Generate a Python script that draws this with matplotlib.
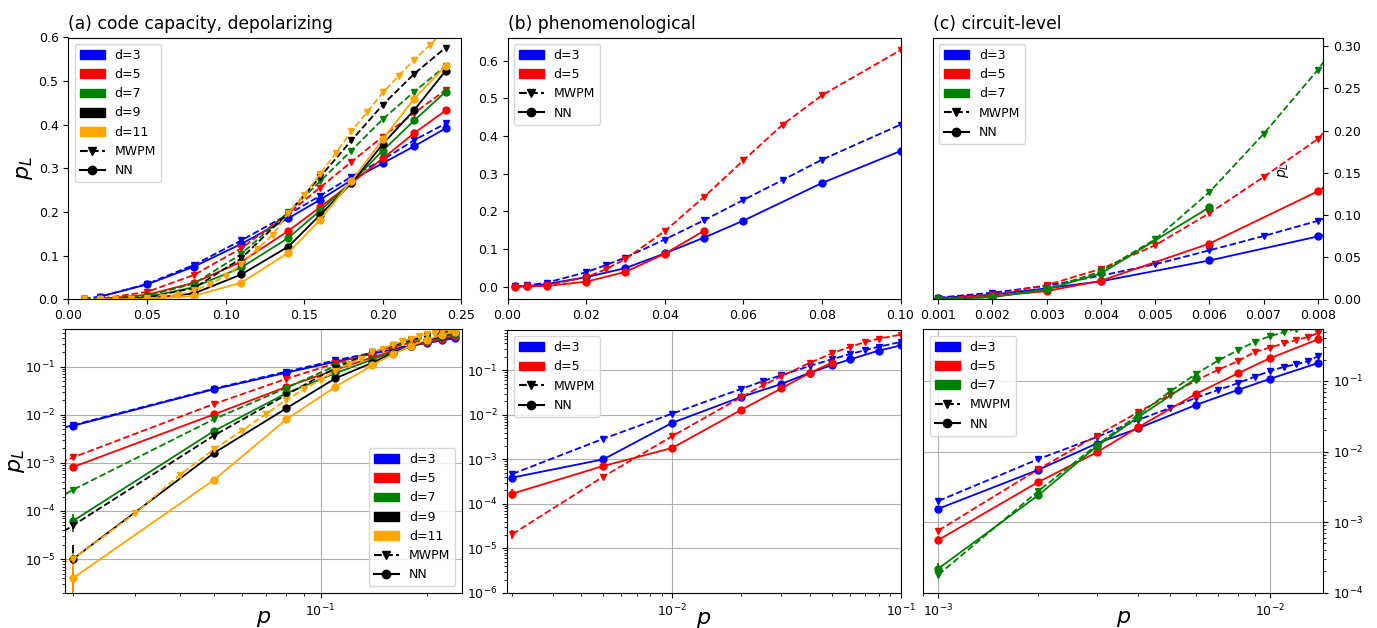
import numpy as np
import matplotlib.pyplot as plt
import matplotlib.patches as mpatches
from matplotlib.lines import Line2D
from matplotlib.ticker import NullFormatter

# (a) code capacity, depolarizing
p_a_nn = [0.02, 0.05, 0.08, 0.11, 0.14, 0.16, 0.18, 0.20, 0.22, 0.24]
p_a_mw = [0.01, 0.02, 0.05, 0.08, 0.11, 0.14, 0.16, 0.18, 0.20, 0.22, 0.24]
p_a_mw11 = [0.01, 0.02, 0.03, 0.04, 0.05, 0.06, 0.07, 0.08, 0.09, 0.10, 0.11, 0.12,
            0.13, 0.14, 0.15, 0.16, 0.17, 0.18, 0.19, 0.20, 0.21, 0.22, 0.23, 0.24]

nn_a3 = [5.9e-3, 0.034, 0.075, 0.127, 0.186, 0.228, 0.273, 0.312, 0.351, 0.392]
nn_a5 = [8.2e-4, 0.0102, 0.038, 0.086, 0.157, 0.211, 0.266, 0.323, 0.381, 0.433]
nn_a7 = [6.2e-5, 4.6e-3, 0.028, 0.073, 0.141, 0.203, 0.268, 0.341, 0.41, 0.476]
nn_a9 = [1.0e-5, 1.6e-3, 0.0136, 0.057, 0.121, 0.193, 0.266, 0.356, 0.434, 0.524]
nn_a11 = [4.0e-6, 4.4e-4, 8.0e-3, 0.038, 0.107, 0.182, 0.271, 0.367, 0.46, 0.535]

mw_a3 = [1.5e-3, 6.1e-3, 0.035, 0.079, 0.135, 0.195, 0.237, 0.281, 0.32, 0.365, 0.403]
mw_a5 = [1.5e-4, 1.3e-3, 0.0168, 0.056, 0.117, 0.197, 0.256, 0.315, 0.373, 0.427, 0.48]
mw_a7 = [1.5e-5, 2.75e-4, 8.1e-3, 0.036, 0.104, 0.200, 0.27, 0.341, 0.413, 0.476, 0.535]
mw_a9 = [2e-6, 5.0e-5, 3.7e-3, 0.026, 0.094, 0.198, 0.28, 0.364, 0.446, 0.517, 0.577]
mw_a11 = [1.3e-6, 1.0e-5, 9e-5, 5.6e-4, 1.9e-3, 4.7e-3, 0.0102, 0.0204, 0.034, 0.054,
          0.08, 0.115, 0.148, 0.198, 0.239, 0.287, 0.335, 0.385, 0.429, 0.474, 0.512,
          0.549, 0.583, 0.62]

# (b) phenomenological
p_b_nn3 = [0.002, 0.005, 0.01, 0.02, 0.03, 0.04, 0.05, 0.06, 0.08, 0.10]
p_b_nn5 = [0.002, 0.005, 0.01, 0.02, 0.03, 0.04, 0.05]
p_b_mw = [0.002, 0.005, 0.01, 0.02, 0.025, 0.03, 0.04, 0.05, 0.06, 0.07, 0.08, 0.10]
nn_b3 = [3.9e-4, 1.0e-3, 6.6e-3, 0.025, 0.049, 0.088, 0.13, 0.175, 0.275, 0.36]
nn_b5 = [1.7e-4, 7.1e-4, 1.8e-3, 0.0128, 0.039, 0.087, 0.148]
mw_b3 = [4.7e-4, 2.9e-3, 0.0106, 0.038, 0.057, 0.077, 0.125, 0.176, 0.23, 0.283, 0.337, 0.43]
mw_b5 = [2.1e-5, 4.1e-4, 3.3e-3, 0.0247, 0.046, 0.073, 0.147, 0.238, 0.335, 0.43, 0.508, 0.628]

# (c) circuit-level
p_c_nn = [0.001, 0.002, 0.003, 0.004, 0.006, 0.008, 0.010, 0.014]
p_c_nn7 = [0.001, 0.002, 0.003, 0.004, 0.006]
p_c_mw = [0.001, 0.002, 0.003, 0.004, 0.005, 0.006, 0.007, 0.008, 0.009, 0.010,
          0.011, 0.012, 0.013, 0.014]
nn_c3 = [1.55e-3, 5.5e-3, 0.013, 0.0213, 0.046, 0.0745, 0.107, 0.18]
nn_c5 = [5.6e-4, 3.7e-3, 9.7e-3, 0.022, 0.066, 0.128, 0.21, 0.39]
nn_c7 = [2.2e-4, 2.4e-3, 0.0118, 0.0306, 0.109]
mw_c3 = [2.0e-3, 7.8e-3, 0.016, 0.028, 0.0415, 0.058, 0.075, 0.093, 0.115, 0.138,
         0.158, 0.172, 0.19, 0.225]
mw_c5 = [7.6e-4, 5.6e-3, 0.0168, 0.036, 0.064, 0.102, 0.145, 0.19, 0.257, 0.297,
         0.34, 0.38, 0.42, 0.48]
mw_c7 = [1.8e-4, 2.75e-3, 0.0123, 0.033, 0.071, 0.127, 0.196, 0.272, 0.36, 0.43,
         0.49, 0.55, 0.6, 0.65]

# samples per point, used for the binomial error bars
shots_nn = 1e5
shots_mw = 1e6

W, H = 1377, 628
fig = plt.figure(figsize=(W / 100, H / 100), dpi=100)


def box(x0, x1, y0, y1):
    return [x0 / W, 1 - y1 / H, (x1 - x0) / W, (y1 - y0) / H]


def draw(ax, p, y, color, mwpm):
    y = np.asarray(y)
    err = np.sqrt(y * (1 - y) / (shots_mw if mwpm else shots_nn))
    ax.errorbar(p, y, yerr=err, color=color, ls='--' if mwpm else '-',
                marker='v' if mwpm else 'o', ms=5, lw=1.3, elinewidth=1.3)


def add_legend(ax, colors, labels, loc):
    h = [mpatches.Patch(color=c, label=l) for c, l in zip(colors, labels)]
    h += [Line2D([], [], color='k', ls='--', marker='v', label='MWPM'),
          Line2D([], [], color='k', marker='o', label='NN')]
    ax.legend(handles=h, loc=loc, fontsize=9)


def fill_a(ax):
    draw(ax, p_a_mw, mw_a3, 'blue', True)
    draw(ax, p_a_nn, nn_a3, 'blue', False)
    draw(ax, p_a_mw, mw_a5, 'red', True)
    draw(ax, p_a_nn, nn_a5, 'red', False)
    draw(ax, p_a_mw, mw_a7, 'green', True)
    draw(ax, p_a_nn, nn_a7, 'green', False)
    draw(ax, p_a_mw, mw_a9, 'black', True)
    draw(ax, p_a_nn, nn_a9, 'black', False)
    draw(ax, p_a_mw11, mw_a11, 'orange', True)
    draw(ax, p_a_nn, nn_a11, 'orange', False)


def fill_b(ax):
    draw(ax, p_b_mw, mw_b3, 'blue', True)
    draw(ax, p_b_nn3, nn_b3, 'blue', False)
    draw(ax, p_b_mw, mw_b5, 'red', True)
    draw(ax, p_b_nn5, nn_b5, 'red', False)


def fill_c(ax):
    draw(ax, p_c_mw, mw_c3, 'blue', True)
    draw(ax, p_c_nn, nn_c3, 'blue', False)
    draw(ax, p_c_mw, mw_c5, 'red', True)
    draw(ax, p_c_nn, nn_c5, 'red', False)
    draw(ax, p_c_mw, mw_c7, 'green', True)
    draw(ax, p_c_nn7, nn_c7, 'green', False)


cols_a = ['blue', 'red', 'green', 'black', 'orange']
labs_a = ['d=3', 'd=5', 'd=7', 'd=9', 'd=11']

# top row, linear
ax = fig.add_axes(box(68.3, 461.5, 37.5, 299.3))
fill_a(ax)
ax.set_xlim(0, 0.25)
ax.set_ylim(0, 0.6)
ax.set_ylabel('$p_L$', fontsize=16)
ax.yaxis.set_label_coords(-0.085, 0.5)
ax.set_title('(a) code capacity, depolarizing', loc='left', fontsize=12.3)
add_legend(ax, cols_a, labs_a, 'upper left')
ax.tick_params(labelsize=9)

ax = fig.add_axes(box(507.5, 900.5, 37.7, 299.0))
fill_b(ax)
ax.set_xlim(0, 0.10)
ax.set_ylim(-0.033, 0.661)
ax.set_title('(b) phenomenological', loc='left', fontsize=12.3)
add_legend(ax, cols_a[:2], labs_a[:2], 'upper left')
ax.tick_params(labelsize=9)

ax = fig.add_axes(box(932.7, 1323.3, 37.7, 299.3))
fill_c(ax)
ax.set_xlim(0.0009, 0.0081)
ax.set_ylim(0, 0.31)
ax.yaxis.tick_right()
ax.text(0.897, 0.494, '$p_L$', rotation=90, transform=ax.transAxes,
        ha='center', va='center', fontsize=10)
ax.set_title('(c) circuit-level', loc='left', fontsize=12.3)
add_legend(ax, cols_a[:3], labs_a[:3], 'upper left')
ax.tick_params(labelsize=9)

# bottom row, log-log
ax = fig.add_axes(box(65, 461.5, 329.3, 592.7))
fill_a(ax)
ax.set_xscale('log')
ax.set_yscale('log')
ax.set_xlim(0.019, 0.25)
ax.set_ylim(2e-6, 0.6)
ax.set_ylabel('$p_L$', fontsize=16)
ax.yaxis.set_label_coords(-0.096, 0.5)
add_legend(ax, cols_a, labs_a, 'lower right')

ax2 = fig.add_axes(box(507.3, 900.7, 330, 593))
fill_b(ax2)
ax2.set_xscale('log')
ax2.set_yscale('log')
ax2.set_xlim(0.0019, 0.1)
ax2.set_ylim(1e-6, 0.8)
add_legend(ax2, cols_a[:2], labs_a[:2], 'upper left')

ax3 = fig.add_axes(box(923.3, 1323.3, 329.3, 592.7))
fill_c(ax3)
ax3.set_xscale('log')
ax3.set_yscale('log')
ax3.set_xlim(0.0009, 0.0145)
ax3.set_ylim(1e-4, 0.54)
ax3.yaxis.tick_right()
add_legend(ax3, cols_a[:3], labs_a[:3], 'upper left')

for a in (ax, ax2, ax3):
    a.set_xlabel('$p$', fontsize=16)
    a.xaxis.set_label_coords(0.5, -0.063)
    a.grid(True, which='major')
    a.xaxis.set_minor_formatter(NullFormatter())
    a.yaxis.set_minor_formatter(NullFormatter())
    a.tick_params(labelsize=9)

fig.savefig('out.png', dpi=100)
